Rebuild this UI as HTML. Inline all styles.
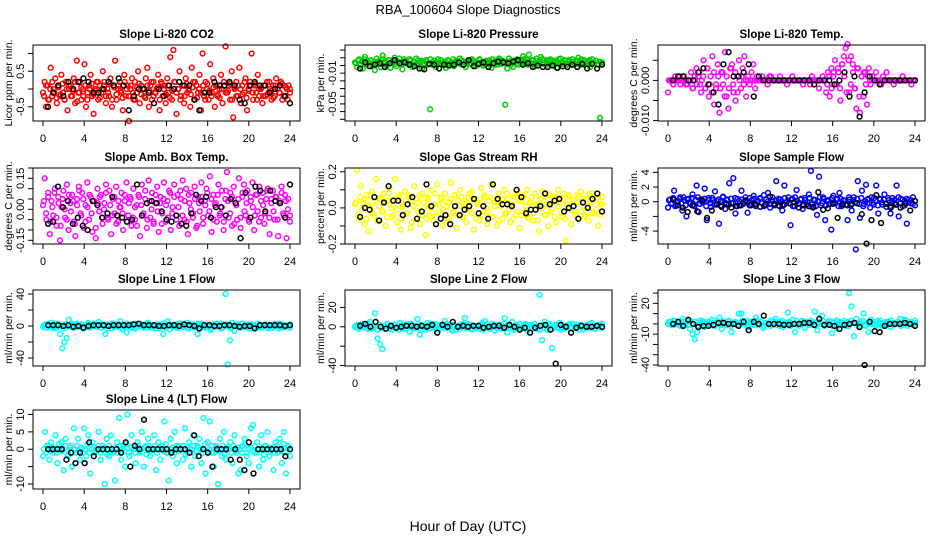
<!DOCTYPE html>
<html><head><meta charset="utf-8"><style>
html,body{margin:0;padding:0;background:#fff;}
svg{display:block;font-family:"Liberation Sans",Arial,sans-serif;}
</style></head><body>
<svg id="fig" width="936" height="540" viewBox="0 0 936 540">
<text x="468" y="14" text-anchor="middle" font-size="13">RBA_100604  Slope Diagnostics</text>
<text x="468" y="531" text-anchor="middle" font-size="14">Hour of Day (UTC)</text>
</svg>
<script>
const hourTicks=[0,4,8,12,16,20,24];
const co2=[-.1,.2,-.5,.1,-.3,.6,-.2,0,.3,-.4,.1,-.2,.4,-.1,-.3,.2,-.6,0,.1,-.2,.3,-.4,.8,-.1,.2,-.3,0,.7,-.5,-.1,.1,.4,-.2,-.7,0,.2,-.3,.1,-.1,.5,.2,-.4,0,-.2,.3,-.5,.1,.8,-.3,0,.2,-.1,-.6,.4,-.2,.1,-.9,0,.3,-.3,.2,-.1,.5,-.4,.1,0,-.2,.3,.6,-.5,.1,-.3,.2,-.1,0,.4,-.6,.2,-.2,.1,-.4,.3,-.1,.9,-.3,1.1,.2,-.7,0,.5,-.2,.1,-.4,.3,-.1,0,-.5,.6,.2,-.3,.1,-.1,.4,-.6,1,-.2,.2,0,-.3,.7,-.1,.3,-.5,.1,-.2,0,.4,-.4,.2,1.2,-.1,.1,-.3,.5,-.8,0,.2,-.2,.6,-.4,.1,-.1,.3,-.6,0,.2,1,-.3,.1,-.1,.4,-.2,0,-.4,.1,-.2,.2,-.1,0,-.3,.1,-.2,.3,0,-.1,.2,-.3,.1,-.2,0,.1,-.1];
const co2B=[-.2,.1,-.3,0,.2,-.1,-.25,.05,-.15,.15,-.3,0,.1,-.2,-.05,.2,-.35,-.1,.05,-.2,.1,-.3,0,.15,-.15,-.05,.2,-.25,0,.1,-.2,-.1,.15,-.3,.05,-.15,.1,-.05,-.25,.2,0,-.2,.1,-.1,-.3,.05,.15,-.15,0,-.25,.1,-.05,.2,-.2,-.1,.05,-.3,.15,0,-.15,.1,-.25,-.05,.2,-.1,0,-.3,.1,-.2,.15,-.05,-.15,.05,.2,-.25,0,-.1,.1,-.3,.15,-.05,-.2,.05,.1,-.15,-.25,0,.2,-.1,-.05,.15,-.3,.05,-.2,.1,0,-.15,.2,-.25,-.05,.1,-.1,.15,-.3,0,.05,-.2,.1,-.15,.2,-.05,-.25,.1,0,-.1,.15,-.2,.05,-.3,0];
const co2Ref=[-.5,-.1,.1,-.2,.2,0,.2,.3,.2,-.1,-.1,0,.2,.1,.3,.1,-.6,-.2,0,0,-.1,-.4,0,-.2,.1,0,.2,.1,.1,-.3,-.6,-.1,-.1,.2,.1,.1,.2,.1,-.3,-.4,.1,.2,.1,.1,-.1,0,.1,-.2,-.4];
const press=[.004,-.002,.008,.001,-.004,.011,.003,-.001,.006,.002,-.006,.009,.004,-.002,.013,.005,0,.007,-.003,.004,.01,-.001,.005,.002,-.005,.008,.003,.001,.006,-.002,.004,.009,0,.005,-.004,.003,.007,.001,-.057,.004,.006,-.002,.008,.003,.001,.005,-.003,.007,.002,.004,-.001,.006,.003,.009,.001,.005,-.002,.004,.007,.002,.006,-.001,.003,.008,.004,0,.005,.002,.007,-.003,.004,.006,.001,.009,.003,.005,-.051,-.004,.002,.006,-.002,.004,.008,.001,.005,.012,.003,.007,.014,.002,.006,-.001,.009,.004,.011,.002,.007,.001,.005,.008,.003,.006,-.003,.004,.009,.002,.007,.001,.005,.003,.008,.002,.006,.010,.001,.004,.007,.002,.005,-.002,.008,.003,.006,.001,-.068,.004];
const pressB=[.003,.006,.001,.005,.008,.002,.004,.007,0,.005,.003,.006,.002,.008,.004,.001,.006,.003,.007,.002,.005,.009,.001,.004,.006,.003,.008,.002,.005,.001,.007,.004,.006,.002,.005,.003,.008,.001,.006,.004,.002,.007,.003,.005,.001,.006,.004,.008,.002,.005,.003,.007,.001,.004,.006,.002,.008,.003,.005,.001,.007,.004,.002,.006,.003,.005,.008,.001,.004,.007,.002,.006,.003,.005,.009,.001,.004,.007,.002,.006,.003,.008,.005,.001,.004,.007,.002,.006,.003,.005,.008,.002,.004,.007,.001,.006,.003,.005,.008,.002,.004,.006,.001,.007,.003,.005,.002,.006,.004,.008,.001,.005,.003,.007,.002,.004,.006,.001,.005,.003];
const pressRef=[-.004,.004,-.001,.001,.003,-.002,.003,.007,.003,.004,.001,-.001,-.004,-.005,.002,.001,-.004,.001,0,.001,.004,.001,.007,-.001,.002,.004,-.002,.003,.005,.004,.003,.005,.007,.001,.003,-.002,0,-.002,-.002,0,-.003,-.001,-.002,.001,-.002,.002,-.004,.002,-.004,.001];
const temp=[-.003,0,0,-.001,.001,0,0,-.001,0,.001,0,-.001,0,.002,-.002,0,.003,.001,-.001,0,.005,-.002,.003,-.004,.001,.006,-.006,-.002,.004,-.008,.002,-.001,.007,-.004,-.007,.003,.004,-.003,-.005,.001,.005,-.002,.003,.006,-.004,0,-.001,.002,.004,-.002,.001,0,0,.001,0,0,-.001,0,.001,0,0,0,0,.001,0,0,0,-.001,0,0,.001,0,0,0,0,0,-.001,0,0,0,0,.001,0,0,0,-.002,0,.001,0,-.003,.002,-.004,.003,.001,.005,-.001,.002,-.005,.004,.006,.008,.009,-.003,.006,.004,-.002,-.007,.003,-.008,.001,-.004,.002,-.006,.003,-.001,.001,0,.002,0,0,-.001,.001,0,.002,0,0,0,-.001,0,0,0,0,.001,0,0,0,0,-.001,0,0];
const tempB=[0,0,-.001,0,0,.001,0,0,-.001,0,0,-.002,.001,-.001,.002,-.003,.001,-.002,.003,-.001,-.003,.002,-.001,.001,-.002,.002,-.004,.001,-.002,.003,-.001,.002,-.003,0,.001,-.001,0,.001,0,0,0,0,0,0,0,0,0,.001,0,0,0,0,0,0,0,0,0,0,0,0,0,0,0,0,0,0,-.001,0,0,0,0,0,0,0,-.001,.001,-.002,.002,-.001,.003,-.002,.004,.001,-.003,.005,-.001,.002,-.002,.003,-.004,.001,.002,-.001,.001,0,0,0,0,0,0,0,0,0,0,0,0,0,0,0,0,0,0,0,0,0,0];
const tempRef=[0,.001,.001,0,0,.002,.003,-.001,-.003,-.006,.004,.007,.001,.001,.002,.004,-.004,.001,0,0,0,0,0,0,0,0,0,0,-.001,0,0,0,-.001,0,.002,-.004,.001,-.009,-.003,.001,0,-.001,0,0,0,0,0,0,0];
const amb=[.02,.15,-.05,.08,-.12,.04,-.03,.1,-.08,.06,-.15,.01,.09,-.04,.12,-.1,.03,.07,-.06,-.13,.05,.11,-.02,.08,-.09,.02,.13,-.05,.06,-.11,.04,-.14,.1,-.01,.07,-.07,.03,.12,-.04,.09,-.12,.05,-.02,.11,-.06,.01,.08,-.1,.04,.13,-.03,.06,-.08,.1,-.05,.02,.07,-.13,.12,-.02,.05,-.09,.14,-.04,.08,-.07,.03,.11,-.11,.06,-.02,.13,-.06,.04,.09,-.1,.01,.12,-.03,.07,-.08,.05,.14,-.05,.1,-.12,.03,.08,-.04,.11,-.09,.06,-.01,.13,-.07,.04,.1,-.03,.16,-.11,.07,.02,-.06,.12,-.02,.09,-.1,.05,.18,-.04,.08,-.08,.11,.03,-.05,.15,-.09,.06,.12,-.03,.09,-.06,.04,.13,-.1,.07,-.01,.11,-.04,.08,-.07,.05,.1,-.12,.03,.09,-.05,.06,-.13,.04,.11,-.02,.07,-.14,.05,-.03];
const ambB=[.04,-.02,.06,-.06,.01,.08,-.04,.03,-.08,.05,0,-.05,.07,-.01,.04,-.07,.02,.09,-.03,.05,-.06,.01,.07,-.02,.04,-.09,.03,.06,-.04,0,.08,-.05,.02,-.03,.06,-.07,.04,.01,-.02,.07,-.06,.03,.05,-.04,.01,-.08,.06,.02,-.03,.09,-.05,.04,0,-.06,.07,-.01,.03,-.07,.05,.02,-.04,.08,-.02,.06,-.05,.01,.09,-.03,.04,-.06,.07,0,-.02,.05,-.08,.03,.06,-.04,.02,.08,-.01,.05,-.05,.03,.07,-.03,.01,-.06,.09,.04,-.02,.06,-.07,.02,.05,-.04,.08,-.01,.03,-.05,.06,.01,-.03,.07,-.06,.04,.02,-.02,.09,-.04,.05,-.01,.06,-.05,.03,.08,-.03,.04,0,-.06];
const ambRef=[-.07,-.06,.11,.01,.04,-.07,-.04,-.08,-.1,.04,.02,-.04,-.02,.06,-.03,-.04,-.06,-.05,.12,-.03,.03,.04,.03,-.01,-.05,-.06,-.03,-.07,-.08,-.02,.07,.04,.06,-.04,.01,.01,-.03,.05,.03,-.14,.08,-.04,.11,.09,-.01,.09,.04,.03,-.04,.12];
const rh=[.02,.21,-.06,.12,.03,-.09,.07,-.13,.01,.09,-.04,.16,-.07,.05,-.02,.08,-.1,.04,.11,-.05,.02,.16,-.08,.06,-.12,.01,.09,-.03,.07,-.11,.04,.12,-.06,.03,-.09,.08,0,-.15,.06,-.04,.1,-.07,.02,.13,-.02,.05,-.1,.08,.01,-.06,.14,-.03,.07,-.11,.04,.1,-.05,.02,-.08,.06,-.01,.09,-.12,.05,.03,-.07,.11,-.02,.06,-.09,.04,.13,-.05,.01,-.1,.08,.03,-.06,.1,-.03,.05,-.08,.02,.07,-.04,.09,-.11,.04,.06,-.02,.1,-.06,.03,-.07,.08,.01,-.13,.05,.09,-.04,.02,-.1,.07,-.01,.06,-.08,.1,.03,-.05,.08,-.18,.02,.06,-.09,.04,-.02,.07,-.06,.09,.01,-.04,.05,-.07,.03,.08,-.03,.05,-.1,.02,.06];
const rhB=[.03,-.04,.06,-.01,.05,-.06,.02,.07,-.03,.04,-.07,.01,.06,-.02,.03,-.05,.08,0,-.04,.05,-.01,.07,-.06,.02,.04,-.03,.06,-.08,.01,.05,-.02,.07,-.04,.03,-.06,.05,0,-.03,.08,-.05,.02,.06,-.01,.04,-.07,.03,.05,-.02,.07,-.04,.01,.06,-.05,.03,-.01,.08,-.03,.04,-.06,.02,.05,-.04,.07,0,-.02,.06,-.05,.03,.04,-.07,.01,.05,-.03,.08,-.01,.02,-.06,.06,-.02,.04,-.04,.07,.01,-.05,.03,.06,-.03,.02,-.07,.05,0,.04,-.04,.07,-.02,.03,-.05,.06,.01,-.03,.05,-.06,.02,.07,-.01,.04,-.04,.03,.06,-.02,.05,-.05,.01,.08,-.03,.04,-.01,.06,-.04,.02];
const rhRef=[-.05,0,-.01,.06,-.07,.03,.12,.04,.04,-.04,.02,.06,-.06,-.02,.13,.01,-.09,-.06,-.04,-.09,.01,-.04,-.01,.01,.05,-.03,.01,-.06,.13,.05,.02,.02,.01,.1,.06,-.03,-.01,-.01,.01,.08,.02,.04,.05,-.02,0,.01,-.06,.03,0,.05,.08,-.02];
const samp=[-.8,.3,-.2,1.5,-.5,.1,.6,-1.2,.2,-2,.4,-.3,1,-.6,2.2,-1.4,.3,-.1,1.8,-2.5,.5,-.7,.2,1.4,-.4,-3,.1,.7,-1,.3,2.5,-.2,3.2,-1.6,.4,-.5,1.5,-.1,.2,-1.5,.5,-.3,.8,-.6,.1,.4,-.2,.9,-.4,1.2,-.8,.2,-.3,2.8,-.5,.3,-1.2,2.2,-.1,.6,-3.2,.4,-.6,1.6,-.2,.3,-1,.5,-.4,1,4.2,-.8,.2,-1.8,3.4,-.5,.6,-2.5,.1,-.3,-3.8,.8,-.2,.4,1.2,-.6,.2,-.4,-2.5,.3,-1.2,.6,-6.5,2.8,-2.2,1.5,-.3,2.3,.4,-.8,-.2,.5,2.2,-1.6,.3,-.4,1,-.7,.2,-1.6,.5,-.2,2.2,-2,.4,-.6,.1,-3,.3,-.2,.6,-.5];
const sampB=[.2,-.3,.5,-.6,.1,.4,-.2,.6,-.5,.3,-.1,.5,-.4,.2,.6,-.3,0,.4,-.6,.2,-.2,.5,-.4,.1,.3,-.5,.6,-.1,.2,-.4,.4,-.2,.5,-.6,.1,.3,-.3,.6,-.1,-.5,.2,.4,-.4,.1,.5,-.2,-.6,.3,.1,-.3,.6,-.5,.2,.4,-.1,-.4,.5,0,-.2,.3,-.6,.6,.1,-.3,.4,-.5,.2,-.1,.5,-.4,.3,-.6,.1,.6,-.2,.4,-.5,.2,-.3,.5,-.1,.3,-.6,.4,-.2,.1,-.4,.6,-.5,.2,-.1,.4,-.3,.5,-.6,.1,.3,-.2,.6,-.4,.2,-.5,.4,-.1,.3,-.3,.5,-.6,.1,.2,-.4,.6,-.2,.3,-.5,.4,-.1,.2,-.3,.1];
const sampRef=[.3,-.5,-.8,-1.4,-.5,-1.3,.2,-2.2,-1.2,-.3,-.7,-.3,-.8,-.6,-.5,.1,-.5,-.3,-.7,-.4,.7,-.3,-.6,-.4,-.2,-.1,-.8,-.4,-.6,-.7,1.3,-1.1,-.9,-.3,-2.2,-.4,-.5,-.3,-.2,-1.7,-5.7,-2.5,.9,-2.9,-.3,-.8,-.4,-.8,-.2,-1.2,.1];
const l1=[-1,2,-2,1,4,-3,0,3,-10,-28,-20,-15,8,2,-2,1,3,-1,2,-3,1,4,-2,0,3,-1,5,-2,1,-10,2,0,-3,3,-1,2,6,-4,1,-8,0,2,-2,3,-1,1,0,-2,2,4,-1,1,-3,0,2,-1,-10,3,6,-4,1,0,2,-2,3,-1,1,4,-3,0,2,-1,-10,1,3,-2,0,2,-5,1,-1,3,0,-3,2,40,-48,-18,4,-6,2,0,-2,3,-1,1,-3,2,0,-1,3,-2,1,0,2,-3,1,-1,2,0,3,-2,1,-1,0,2];
const l1B=[1,-2,2,0,-1,3,-2,1,0,-3,2,-1,1,3,-2,0,2,-1,-3,1,2,-2,0,3,-1,1,-2,2,0,-3,1,3,-1,0,2,-2,1,-1,3,0,-2,2,-3,1,0,2,-1,3,-2,1,-1,0,2,-3,1,3,-2,0,1,-1,2,-2,3,0,-1,1,-3,2,0,-2,1,3,-1,2,-2,0,1,-3,2,-1,0,3,-2,1,2,-1,-3,0,1,2,-2,3,-1,0,2,-3,1,-1,3,0,-2,1,2,-1,0,-2,3,1,-3,2,0,-1,1,-2];
const l1Ref=[1,1,1,0,1,-1,0,-2,0,1,1,1,0,1,1,1,1,2,3,1,1,1,0,0,1,1,0,2,1,0,-3,1,1,0,0,1,1,0,-1,0,0,-3,1,1,1,1,1,0,1];
const l2=[0,2,-1,3,1,-2,5,-1,14,-12,-18,-23,-2,3,1,-3,2,0,4,-2,1,3,-5,2,-1,8,-8,1,-1,4,-2,0,3,-3,2,0,6,-1,2,-4,1,0,-2,3,9,-1,2,-3,0,1,-2,4,6,-1,0,3,-4,2,-1,1,9,-6,2,5,-2,0,3,-1,2,-4,0,1,3,-2,33,-14,5,-3,1,-22,2,-1,4,0,-2,1,3,-1,0,2,-3,1,0,2,-1,4,-2,0,1,3];
const l2B=[1,-2,2,0,-1,3,-2,1,0,-3,2,-1,1,3,-2,0,2,-1,-3,1,2,-2,0,3,-1,1,-2,2,0,-3,1,3,-1,0,2,-2,1,-1,3,0,-2,2,-3,1,0,2,-1,3,-2,1,-1,0,2,-3,1,3,-2,0,1,-1,2,-2,3,0,-1,1,-3,2,0,-2,1,3,-1,2,-2,0,1,-3,2,-1,0,3,-2,1,2,-1,-3,0,1,2,-2,3,-1,0,2,-3,1,-1,3,0,-2,1,2,-1];
const l2Ref=[1,3,0,5,0,-2,1,-1,0,1,1,0,1,0,2,-6,2,0,5,0,1,0,1,1,-1,0,1,1,-1,2,0,-3,-1,-6,-1,1,2,-3,-38,2,0,-6,-1,1,0,0,1,0];
const l3=[0,2,-1,3,1,-2,5,-1,2,-5,-10,-15,-8,3,1,-3,2,0,4,-2,1,6,-5,2,-1,3,-8,1,-1,10,10,0,3,-3,2,0,6,-1,2,-4,1,0,-2,3,5,-1,2,-3,0,11,-2,4,-8,-1,0,3,-4,2,-1,1,12,-6,2,8,-2,0,3,-9,2,-4,0,1,3,-2,30,17,-12,5,-3,1,10,-1,-8,4,0,-2,1,3,-1,0,2,-3,1,0,2,5,-1,4,-2,0,1,3];
const l3B=[2,-1,3,0,1,-2,2,1,-1,3,0,2,-2,1,3,-1,0,2,1,-2,3,0,-1,2,1,3,-2,0,2,-1,1,3,0,-2,2,1,-1,3,0,2,-2,1,0,3,-1,2,1,-2,3,0,1,2,-1,0,3,-2,2,1,0,-1,3,2,-2,1,0,3,-1,2,0,-2,1,3,2,-1,0,2,-2,3,1,0,-1,2,3,-2,1,0,2,-1,3,1,-2,0,2,1,3,-1,0,2,-2,1,3,0,2,-1,1];
const l3Ref=[0,2,-2,4,0,-3,-2,-2,-1,1,1,0,0,-2,2,-6,2,0,8,0,0,0,-1,-1,0,0,1,1,-1,5,-1,-1,-2,-5,-1,0,1,-3,-40,2,-7,-8,-2,0,0,0,1,0,-2];
const l4=[-2,5,1,-3,2,-1,4,-4,0,2,-6,3,-2,1,-5,6,-1,3,-3,0,6,-2,4,-7,2,-1,0,5,-3,1,-10,3,-2,4,-1,-9,2,9,-3,1,-5,10,-2,4,0,-4,2,-1,5,-5,1,3,-2,0,4,-6,2,-3,1,8,-1,-9,3,-2,5,-4,1,0,-3,6,-1,2,-5,4,-2,1,3,-4,9,-7,2,8,-1,-5,1,-10,3,-2,5,-3,0,2,-4,4,-1,-7,-6,1,3,-2,-4,6,7,-1,2,-5,4,-3,1,5,-2,0,-6,2,-1,3,-4,5,-7,1,-2];
const l4B=[0,-1,1,-.5,.5,0,-1,1.5,-.5,0,1,-1.5,.5,-1,0,1,-.5,.5,-1,0,1.5,-1,0,.5,-.5,1,-1,0,.5,-1.5,1,0,-.5,.5,-1,1,0,-.5,1.5,-1,.5,0,-1,1,-.5,0,.5,-1.5,1,-.5,0,1,-1,.5,0,-.5,1.5,-1,0,.5,-1,1,-.5,0,1,-1.5,.5,0,-1,1,-.5,.5,0,-1,1.5,-.5,0,1,-1,.5,-.5,0,1,-1.5,.5,0,-1,1,-.5,.5,0,-1,1.5,-1,0,.5,-.5,1,-1,0,.5,-1.5,1,0,-.5,.5,-1,1,0,-.5,1.5,-1,.5,0];
const l4Ref=[0,0,0,0,-3,-1,-4,-1,-4,2,-2,0,0,0,0,0,-1,2,-5,1,0,8.5,0,0,0,0,0,-1,0,0,0,-1,4,-2,0,-1,-5,0,0,0,-3,0,-3,-6,2,-7,0,0,0,0,0,0,-2,0];

const colLeft=[33,345,658];
const rowTop=[45,168,290,410];
const rowBot=[121,244,366,489];
const panels=[
 {name:'co2',title:'Slope Li-820 CO2',ylab:'Licor ppm per min.',col:'#ff0000',r:0,c:0,ymin:-.9,ymax:1.24,ticks:[-.5,0,.5,1],labs:['-0.5','','0.5',''],d:[co2,co2B],k:co2Ref},
 {name:'pressure',title:'Slope Li-820 Pressure',ylab:'kPa per min.',col:'#00cd00',r:0,c:1,ymin:-.0722,ymax:.0266,ticks:[.02,.01,0,-.01,-.02,-.03,-.04,-.05,-.06,-.07],labs:['','','','-0.01','','','','-0.05','',''],d:[press,pressB],k:pressRef},
 {name:'temp',title:'Slope Li-820 Temp.',ylab:'degrees C per min.',col:'#ff00ff',r:0,c:2,ymin:-.0101,ymax:.0088,ticks:[.005,0,-.005,-.01],labs:['','0.000','','-0.010'],d:[temp,tempB],k:tempRef},
 {name:'amb-box-temp',title:'Slope Amb. Box Temp.',ylab:'degrees C per min.',col:'#ff00ff',r:1,c:0,ymin:-.168,ymax:.2,ticks:[.2,.15,.1,.05,0,-.05,-.1,-.15],labs:['','0.15','','','0.00','','','-0.15'],d:[amb,ambB],k:ambRef},
 {name:'gas-stream-rh',title:'Slope Gas Stream RH',ylab:'percent per min.',col:'#ffff00',r:1,c:1,ymin:-.2,ymax:.221,ticks:[.2,.1,0,-.1,-.2],labs:['0.2','','0.0','','-0.2'],d:[rh,rhB],k:rhRef},
 {name:'sample-flow',title:'Slope Sample Flow',ylab:'ml/min per min.',col:'#0000ff',r:1,c:2,ymin:-5.76,ymax:4.59,ticks:[4,2,0,-2,-4],labs:['4','2','0','','-4'],d:[samp,sampB],k:sampRef},
 {name:'line1-flow',title:'Slope Line 1 Flow',ylab:'ml/min per min.',col:'#00ffff',r:2,c:0,ymin:-50,ymax:45,ticks:[40,20,0,-20,-40],labs:['40','','0','','-40'],d:[l1,l1B],k:l1Ref},
 {name:'line2-flow',title:'Slope Line 2 Flow',ylab:'ml/min per min.',col:'#00ffff',r:2,c:1,ymin:-40.5,ymax:38,ticks:[20,0,-20,-40],labs:['20','0','','-40'],d:[l2,l2B],k:l2Ref},
 {name:'line3-flow',title:'Slope Line 3 Flow',ylab:'ml/min per min.',col:'#00ffff',r:2,c:2,ymin:-41,ymax:33,ticks:[30,20,10,0,-10,-20,-30,-40],labs:['','20','','','-10','','','-40'],d:[l3,l3B],k:l3Ref},
 {name:'line4-flow',title:'Slope Line 4 (LT) Flow',ylab:'ml/min per min.',col:'#00ffff',r:3,c:0,ymin:-11.45,ymax:11.3,ticks:[10,5,0,-5,-10],labs:['10','5','0','','-10'],d:[l4,l4B],k:l4Ref}
];
const NS='http://www.w3.org/2000/svg';
const fig=document.getElementById('fig');
function mk(tag,attrs,parent,txt){const e=document.createElementNS(NS,tag);for(const a in attrs)e.setAttribute(a,attrs[a]);if(txt!==undefined)e.textContent=txt;parent.appendChild(e);return e;}
panels.forEach(p=>{
 const L=colLeft[p.c],W=267,T=rowTop[p.r],B=rowBot[p.r];
 const xs=h=>L+10+h*247/24;
 const ys=v=>B-(v-p.ymin)/(p.ymax-p.ymin)*(B-T);
 const g=mk('g',{},fig);
 
 
 const t=mk('text',{x:L+W/2,y:T-7,'text-anchor':'middle','font-size':11.5,'font-weight':'bold'},g,p.title);
 
 
 const yl=mk('text',{transform:`translate(${L-21},${(T+B)/2}) rotate(-90)`,'text-anchor':'middle','font-size':10.5},g,p.ylab);
 
 
 const pts=mk('g',{fill:'none','stroke-width':1.5},g);
 
 
 p.d.forEach((arr,si)=>{
  const n=arr.length, off=si*0.1;
  arr.forEach((v,i)=>{const c=mk('circle',{cx:xs(off+i*(24-off)/(n-1)).toFixed(1),cy:ys(v).toFixed(1),r:2.4,stroke:p.col},pts);
   
   });
 });
 const m=p.k.length;
 p.k.forEach((v,i)=>{const c=mk('circle',{cx:xs(0.5+i*23.5/(m-1)).toFixed(1),cy:ys(v).toFixed(1),r:2.4,stroke:'#000'},pts);
  
  });
 const box=mk('rect',{x:L,y:T,width:W,height:B-T,fill:'none',stroke:'#000','stroke-width':1},g);
 
 
 const ax=mk('g',{stroke:'#000','stroke-width':1},g);
 
 
 hourTicks.forEach(h=>{mk('line',{x1:xs(h),x2:xs(h),y1:B,y2:B+5},ax);
  const tl=mk('text',{x:xs(h),y:B+21,'text-anchor':'middle','font-size':11,stroke:'none',fill:'#000'},ax,String(h));
  
  });
 const ay=mk('g',{stroke:'#000','stroke-width':1},g);
 
 
 p.ticks.forEach((v,i)=>{const y=ys(v);mk('line',{x1:L-5,x2:L,y1:y,y2:y},ay);
  if(p.labs[i]){const tl=mk('text',{transform:`translate(${L-9},${y}) rotate(-90)`,'text-anchor':'middle','font-size':11,stroke:'none',fill:'#000'},ay,p.labs[i]);
  
  }});
});
</script>
</body></html>
